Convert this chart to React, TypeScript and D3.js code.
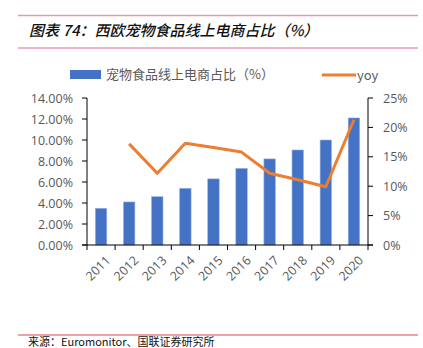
import React from "react";
import * as d3 from "d3";

const years = ["2011","2012","2013","2014","2015","2016","2017","2018","2019","2020"];
const share = [3.5, 4.1, 4.6, 5.4, 6.3, 7.3, 8.2, 9.05, 10.0, 12.1];
const yoy: (number | null)[] = [null, 17.2, 12.2, 17.3, 16.6, 15.8, 12.2, 11.1, 9.9, 21.3];
const leftTicks = [0, 2, 4, 6, 8, 10, 12, 14];
const rightTicks = [0, 5, 10, 15, 20, 25];

const W = 423, H = 348;
const x0 = 87, x1 = 368, yTop = 98, yBot = 245;

export default function App() {
  const x = d3.scaleBand<string>().domain(years).range([x0, x1]);
  const yL = d3.scaleLinear().domain([0, 14]).range([yBot, yTop]);
  const yR = d3.scaleLinear().domain([0, 25]).range([yBot, yTop]);
  const barW = 11.5;
  const line = d3.line<[string, number | null]>()
    .defined(d => d[1] !== null)
    .x(d => x(d[0])! + x.bandwidth() / 2)
    .y(d => yR(d[1] as number));
  const pts: [string, number | null][] = years.map((y, i) => [y, yoy[i]]);
  const gray = "#595959";
  const font = "'Noto Sans CJK SC', 'Noto Sans', sans-serif";
  return (
    <svg width={W} height={H} style={{ position: "absolute", left: 0, top: 0, background: "#fff" }}>
      <rect width={W} height={H} fill="#fff" />
      <line x1={18} x2={418} y1={15.5} y2={15.5} stroke="#e89aab" strokeWidth={1.5} />
      <text x={29} y={36} fontSize={15} fontFamily={font} fontStyle="italic" fontWeight={500} fill="#111">图表 74：西欧宠物食品线上电商占比（%）</text>
      <line x1={18} x2={418} y1={48} y2={48} stroke="#e89aab" strokeWidth={1.5} />

      {/* legend */}
      <rect x={70} y={70} width={31} height={9} fill="#4472c4" />
      <text x={106} y={79} fontSize={13} fontFamily={font} fill={gray}>宠物食品线上电商占比（%）</text>
      <line x1={322} x2={356} y1={75} y2={75} stroke="#ed7d31" strokeWidth={3} />
      <text x={357} y={80} fontSize={13} fontFamily={font} fill={gray}>yoy</text>

      {/* bars */}
      {years.map((yr, i) => (
        <rect key={yr} x={x(yr)! + x.bandwidth() / 2 - barW / 2} y={yL(share[i])}
          width={barW} height={yBot - yL(share[i])} fill="#4472c4" stroke="#9db7e3" strokeWidth={0.6} />
      ))}

      {/* line */}
      <path d={line(pts) || ""} fill="none" stroke="#ed7d31" strokeWidth={3} strokeLinejoin="round" />

      {/* left axis */}
      <line x1={x0} x2={x0} y1={yTop} y2={yBot} stroke="#000" strokeWidth={1} />
      {leftTicks.map(t => (
        <g key={t}>
          <line x1={x0 - 5} x2={x0} y1={yL(t)} y2={yL(t)} stroke="#000" />
          <text x={73} y={yL(t) + 4.5} textAnchor="end" fontSize={12.5} fontFamily="'Open Sans', 'Noto Sans', sans-serif" fill={gray}>{t.toFixed(2)}%</text>
        </g>
      ))}
      {/* right axis */}
      <line x1={x1} x2={x1} y1={yTop} y2={yBot} stroke="#000" strokeWidth={1} />
      {rightTicks.map(t => (
        <g key={t}>
          <line x1={x1} x2={x1 + 5} y1={yR(t)} y2={yR(t)} stroke="#000" />
          <text x={383} y={yR(t) + 4.5} textAnchor="start" fontSize={12.5} fontFamily="'Open Sans', 'Noto Sans', sans-serif" fill={gray}>{t}%</text>
        </g>
      ))}
      {/* bottom axis */}
      <line x1={x0 - 5} x2={x1 + 5} y1={yBot} y2={yBot} stroke="#000" strokeWidth={1} />
      {[...years.map(y => x(y)!), x1].map((v, i) => (
        <line key={i} x1={v} x2={v} y1={yBot} y2={yBot + 5} stroke="#000" />
      ))}
      {years.map(yr => {
        const cx = x(yr)! + x.bandwidth() / 2 + 4;
        const cy = yBot + 10;
        return (
          <text key={yr} x={cx} y={cy} textAnchor="end" fontSize={12.5} fontFamily="'Open Sans', 'Noto Sans', sans-serif"
            fill={gray} transform={`rotate(-45, ${cx}, ${cy})`} dy="0.7em">{yr}</text>
        );
      })}

      <line x1={18} x2={418} y1={335} y2={335} stroke="#d6455f" strokeWidth={1.2} />
      <text x={28} y={345.5} fontSize={11} fontFamily={font} fill="#111">来源：Euromonitor、国联证券研究所</text>
    </svg>
  );
}
